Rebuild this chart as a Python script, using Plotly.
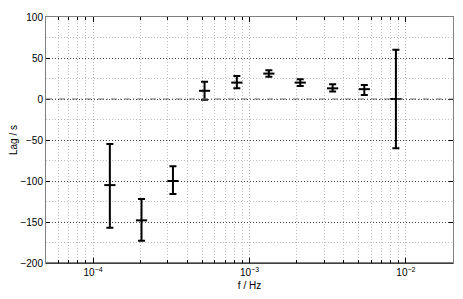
import plotly.graph_objects as go

# frequency bins and measured lags
freq = [1.28e-4, 2.04e-4, 3.24e-4, 5.16e-4, 8.3e-4, 1.33e-3, 2.11e-3, 3.4e-3, 5.42e-3, 8.63e-3]
lag = [-105, -148, -100, 10, 20, 31, 20, 13, 12, 0]
lag_upper = [-55, -122, -82, 21, 28, 35, 24, 18, 17, 60]
lag_lower = [-157, -173, -116, -1, 13, 27, 16, 9, 5, -60]

x_tickvals = [1e-4, 1e-3, 1e-2]
x_ticktext = ["10<sup>\u22124</sup>", "10<sup>\u22123</sup>", "10<sup>\u22122</sup>"]
x_minorvals = [m * d for d in [1e-5, 1e-4, 1e-3, 1e-2] for m in range(2, 10)]

err_plus = [u - v for u, v in zip(lag_upper, lag)]
err_minus = [v - l for v, l in zip(lag, lag_lower)]

font = "Liberation Sans, Arial, Helvetica, sans-serif"
dots = "1px,2px"

fig = go.Figure()

fig.add_hline(y=0, line=dict(color="#707070", width=1, dash="6px,3px,1px,3px"))

fig.add_trace(go.Scatter(
    x=freq,
    y=lag,
    mode="markers",
    marker=dict(symbol="line-ew", size=8, line=dict(color="black", width=2)),
    error_y=dict(type="data", array=err_plus, arrayminus=err_minus,
                 color="black", thickness=2, width=3.5),
    showlegend=False,
))

# dark bottom spine
fig.add_shape(type="line", xref="paper", yref="paper", x0=0, x1=1, y0=0, y1=0,
              line=dict(color="black", width=1))

# page body has an 8px default margin, so the figure is shrunk to fit the window
fig.update_layout(
    width=455,
    height=291,
    margin=dict(l=38, r=10, t=9, b=36),
    paper_bgcolor="white",
    plot_bgcolor="white",
    font=dict(family=font, size=10, color="black"),
    xaxis=dict(
        type="log",
        range=[-4.301, -1.699],
        automargin=False,
        tickmode="array",
        tickvals=x_tickvals,
        ticktext=x_ticktext,
        ticks="inside",
        ticklen=5,
        tickcolor="black",
        showline=True,
        linecolor="#808080",
        mirror="ticks",
        showgrid=True,
        gridcolor="#b0b0b0",
        griddash=dots,
        gridwidth=1,
        minor=dict(tickmode="array", tickvals=x_minorvals, ticks="inside", ticklen=3,
                   tickcolor="black", showgrid=True, gridcolor="#c0c0c0",
                   griddash=dots, gridwidth=1),
        title=dict(text="f / Hz", standoff=4, font=dict(size=10)),
        zeroline=False,
    ),
    yaxis=dict(
        range=[-200, 100],
        dtick=50,
        automargin=False,
        ticks="inside",
        ticklen=4,
        tickcolor="black",
        showline=True,
        linecolor="#808080",
        mirror="ticks",
        showgrid=True,
        gridcolor="#404040",
        griddash=dots,
        gridwidth=1,
        minor=dict(dtick=25, showgrid=True, gridcolor="#c0c0c0", griddash=dots, gridwidth=1),
        title=dict(text="Lag / s", standoff=0, font=dict(size=10)),
        zeroline=False,
    ),
)

fig.write_html("out.html")
